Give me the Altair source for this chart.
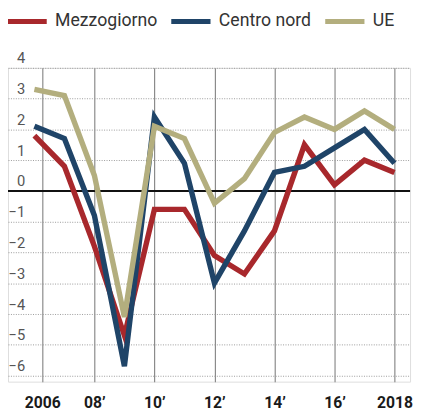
import altair as alt
import pandas as pd

years = list(range(2006, 2019))
mezzogiorno = [1.8, 0.8, -1.8, -4.7, -0.6, -0.6, -2.1, -2.7, -1.3, 1.5, 0.2, 1.0, 0.6]
centro_nord = [2.1, 1.7, -0.8, -5.7, 2.4, 0.9, -3.0, -1.3, 0.6, 0.8, 1.4, 2.0, 0.9]
ue = [3.3, 3.1, 0.5, -4.1, 2.1, 1.7, -0.4, 0.4, 1.9, 2.4, 2.0, 2.6, 2.0]

series_names = ["Mezzogiorno", "Centro nord", "UE"]
series_colors = ["#a8282c", "#1f4468", "#b3ae7e"]

x_tick_values = [2006.26, 2008, 2010, 2012, 2014, 2016, 2018]
x_tick_labels = ["2006", "08\u2019", "10\u2019", "12\u2019", "14\u2019", "16\u2019", "2018"]
y_tick_values = [-6, -5, -4, -3, -2, -1, 0, 1, 2, 3, 4]

rows = []
for name, vals in zip(series_names, [mezzogiorno, centro_nord, ue]):
    for y, v in zip(years, vals):
        rows.append({"anno": y, "valore": v, "serie": name})
df = pd.DataFrame(rows)

label_expr = " : ".join(
    f"datum.value == {v} ? '{l}'" for v, l in zip(x_tick_values, x_tick_labels)
) + " : ''"

FONT = "Roboto"

x_scale = alt.Scale(domain=[2005.12, 2018.52], nice=False, zero=False)
y_scale = alt.Scale(domain=[-6.2, 4], nice=False, zero=False)

x_axis = alt.Axis(values=x_tick_values, labelExpr=label_expr, grid=True,
                  gridColor="#8a8a8a", gridWidth=1.2, domain=False, ticks=False,
                  labelFont=FONT, labelFontSize=16, labelFontWeight="bold",
                  labelColor="#1a1a1a", labelPadding=13, labelFlush=False,
                  labelOverlap=False, labelBound=False)
y_axis = alt.Axis(values=y_tick_values, grid=True, gridColor="#9a9a9a",
                  gridDash=[1, 1.5], gridWidth=1, domain=False, ticks=False,
                  tickSize=0, labelAlign="right", labelPadding=-17,
                  labelBaseline="alphabetic", labelOffset=-5,
                  labelFont=FONT, labelFontSize=15, labelColor="#555555",
                  labelFlush=False, labelOverlap=False, labelBound=False)

zero_df = pd.DataFrame({"valore": [0]})
zero_rule = alt.Chart(zero_df).mark_rule(color="#111111", strokeWidth=2).encode(
    y=alt.Y("valore:Q", scale=y_scale, axis=y_axis, title=None)
)

lines = alt.Chart(df).mark_line(strokeWidth=5.5, strokeJoin="miter", strokeCap="butt").encode(
    x=alt.X("anno:Q", scale=x_scale, title=None, axis=x_axis),
    y=alt.Y("valore:Q", scale=y_scale, title=None, axis=y_axis),
    color=alt.Color("serie:N", sort=series_names,
                    scale=alt.Scale(domain=series_names, range=series_colors),
                    legend=alt.Legend(title=None, orient="none", direction="horizontal",
                                      legendX=-3, legendY=-70, symbolType="stroke",
                                      symbolSize=1600, symbolStrokeWidth=5,
                                      labelFont=FONT, labelFontSize=18,
                                      labelColor="#333333", labelOffset=6,
                                      columnPadding=3, padding=0)),
    order=alt.Order("anno:Q"),
)

chart = alt.layer(zero_rule, lines).properties(
    width=410, height=320,
    autosize=alt.AutoSizeParams(type="none"),
    padding={"left": 0, "top": 57, "right": 3, "bottom": 31},
).configure_view(stroke=None).configure(background="white")

chart.save("out.html", embed_options={"renderer": "svg", "actions": False})
